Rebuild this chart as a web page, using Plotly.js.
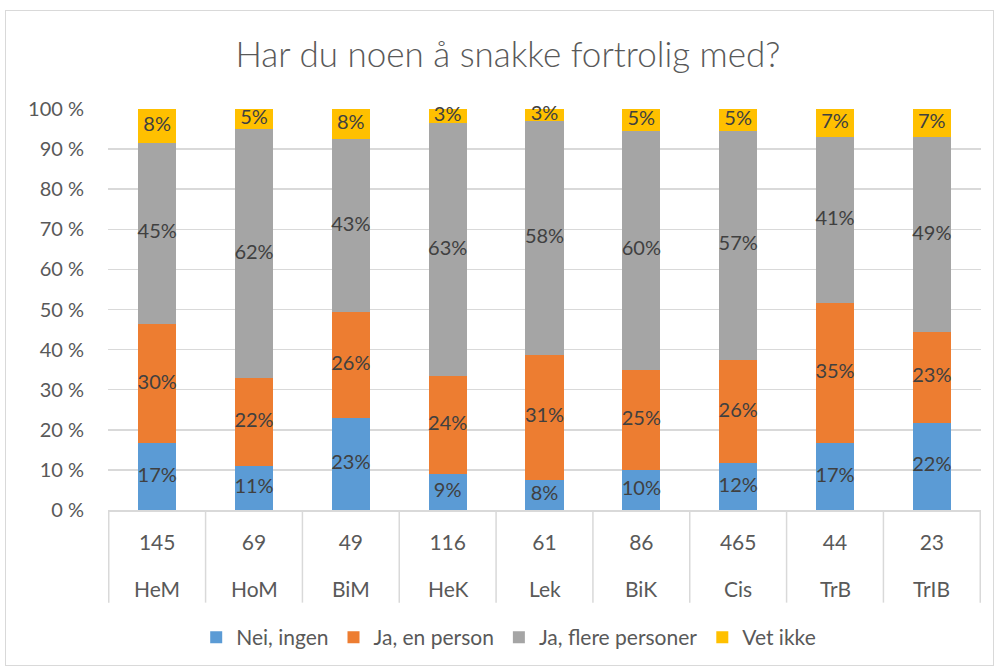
<!DOCTYPE html>
<html>
<head>
<meta charset="utf-8">
<script src="https://cdn.plot.ly/plotly-3.0.1.min.js"></script>
<style>
  html, body { margin: 0; padding: 0; background: #ffffff; }
  #chart { width: 998px; height: 670px; }
  #frame { position: absolute; left: 5px; top: 10px; width: 987px; height: 654px;
           border: 1px solid #d9d9d9; pointer-events: none; }
</style>
</head>
<body>
<div id="chart"></div>
<div id="frame"></div>
<script>
const groups = ['HeM', 'HoM', 'BiM', 'HeK', 'Lek', 'BiK', 'Cis', 'TrB', 'TrIB'];
const counts = ['145', '69', '49', '116', '61', '86', '465', '44', '23'];

const neiIngen     = [16.6, 11.0, 22.9, 8.9, 7.6, 9.9, 11.6, 16.6, 21.7];
const jaEnPerson   = [29.8, 22.0, 26.4, 24.4, 31.1, 25.0, 25.8, 35.0, 22.7];
const jaFlere      = [45.2, 61.9, 43.1, 63.3, 58.4, 59.7, 57.2, 41.3, 48.6];
const vetIkke      = [8.4, 5.1, 7.6, 3.4, 2.9, 5.4, 5.4, 7.1, 7.0];

const seriesNames = ['Nei, ingen', 'Ja, en person', 'Ja, flere personer', 'Vet ikke'];
const seriesColors = ['#5B9BD5', '#ED7D31', '#A5A5A5', '#FFC000'];
const seriesValues = [neiIngen, jaEnPerson, jaFlere, vetIkke];

const FONT = 'Lato, "Open Sans", sans-serif';
const GRID = '#d9d9d9';

const traces = seriesValues.map((vals, i) => ({
  type: 'bar',
  name: seriesNames[i],
  x: groups,
  y: vals,
  marker: { color: seriesColors[i], line: { width: 0 } },
  hoverinfo: 'skip'
}));

// data labels centred in each stacked segment
const labelX = [], labelY = [], labelText = [];
groups.forEach((g, j) => {
  let base = 0;
  seriesValues.forEach(vals => {
    labelX.push(g);
    labelY.push(base + vals[j] / 2);
    labelText.push(Math.round(vals[j]) + '%');
    base += vals[j];
  });
});
traces.push({
  type: 'scatter',
  mode: 'text',
  x: labelX,
  y: labelY,
  text: labelText,
  textposition: 'middle center',
  textfont: { family: FONT, size: 20, color: '#404040' },
  cliponaxis: false,
  showlegend: false,
  hoverinfo: 'skip'
});

// vertical dividers of the category table below the axis
const shapes = [];
for (let i = 0; i <= groups.length; i++) {
  shapes.push({
    type: 'line', xref: 'x', yref: 'paper',
    x0: i - 0.5, x1: i - 0.5, y0: 0, y1: -0.231,
    line: { color: GRID, width: 1.5 }
  });
}

// second row of category labels (group names)
const annotations = groups.map(g => ({
  x: g, xref: 'x', y: -0.195, yref: 'paper',
  text: g, showarrow: false, xanchor: 'center', yanchor: 'middle',
  font: { family: FONT, size: 21, color: '#595959' }
}));

const layout = {
  width: 998,
  height: 670,
  paper_bgcolor: '#ffffff',
  plot_bgcolor: '#ffffff',
  margin: { l: 108, r: 17, t: 109, b: 158 },
  barmode: 'stack',
  bargap: 0.605,
  showlegend: true,
  shapes: shapes,
  annotations: annotations,
  title: {
    text: 'Har du noen å snakke fortrolig med?',
    font: { family: FONT, size: 35, color: '#595959', weight: 300 },
    x: 0.509, xref: 'container', xanchor: 'center',
    y: 55, yref: 'container', yanchor: 'middle'
  },
  xaxis: {
    type: 'category',
    tickmode: 'array',
    tickvals: groups,
    ticktext: counts,
    showgrid: false,
    showline: true,
    linecolor: GRID,
    linewidth: 1.5,
    ticks: '',
    ticklabelstandoff: 13,
    tickfont: { family: FONT, size: 21, color: '#595959' },
    fixedrange: true
  },
  yaxis: {
    range: [0, 100],
    dtick: 10,
    tick0: 0,
    ticksuffix: ' %',
    showgrid: true,
    gridcolor: GRID,
    gridwidth: 1.5,
    zeroline: false,
    showline: false,
    ticks: '',
    ticklabelstandoff: 23,
    tickfont: { family: FONT, size: 20, color: '#595959' },
    fixedrange: true
  },
  legend: {
    orientation: 'h',
    x: 0.459, xanchor: 'center',
    y: -0.318, yanchor: 'middle',
    font: { family: FONT, size: 21, color: '#595959' },
    traceorder: 'normal',
    itemwidth: 30
  }
};

Plotly.newPlot('chart', traces, layout, { displayModeBar: false, staticPlot: true });
</script>
</body>
</html>
